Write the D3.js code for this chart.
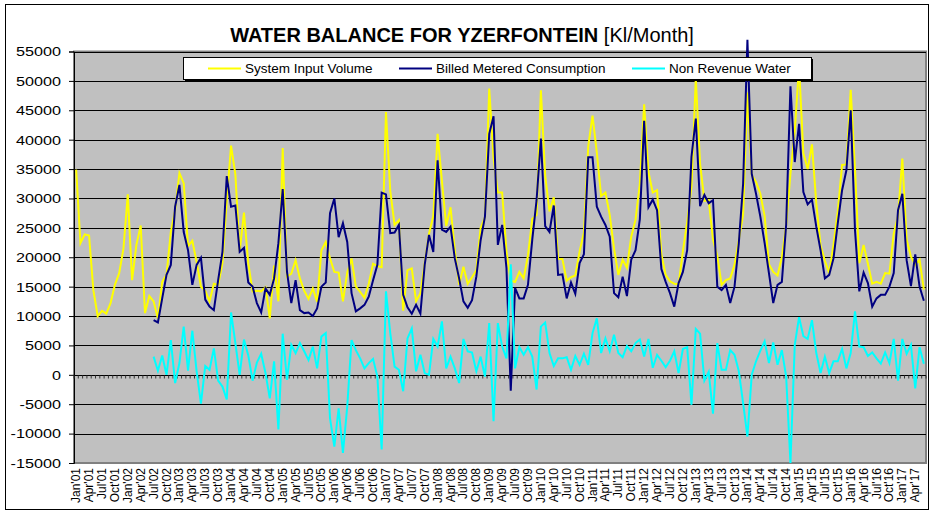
<!DOCTYPE html>
<html>
<head>
<meta charset="utf-8">
<script src="https://cdn.jsdelivr.net/npm/d3@7"></script>
<style>
  body { margin: 0; background: #fff; }
  svg { display: block; font-family: "Liberation Sans", Arial, sans-serif; }
</style>
</head>
<body>
<div id="chart"></div>
<script>
// monthly data, Jan 2001 .. Jun 2017 (198 months)
const years = d3.range(2001, 2018);
const monthNames = ["Jan", "Feb", "Mar", "Apr", "May", "Jun", "Jul", "Aug", "Sep", "Oct", "Nov", "Dec"];

const tickLabels = [
  "Jan'01","Apr'01","Jul'01","Oct'01","Jan'02","Apr'02","Jul'02","Oct'02",
  "Jan'03","Apr'03","Jul'03","Oct'03","Jan'04","Apr'04","Jul'04","Oct'04",
  "Jan'05","Apr'05","Jul'05","Oct'05","Jan'06","Apr'06","Jul'06","Oct'06",
  "Jan'07","Apr'07","Jul'07","Oct'07","Jan'08","Apr'08","Jul'08","Oct'08",
  "Jan'09","Apr'09","Jul'09","Oct'09","Jan'10","Apr'10","Jul'10","Oct'10",
  "Jan'11","Apr'11","Jul'11","Oct'11","Jan'12","Apr'12","Jul'12","Oct'12",
  "Jan'13","Apr'13","Jul'13","Oct'13","Jan'14","Apr'14","Jul'14","Oct'14",
  "Jan'15","Apr'15","Jul'15","Oct'15","Jan'16","Apr'16","Jul'16","Oct'16",
  "Jan'17","Apr'17"
];

const systemInput = [
  34900, 22400, 23900, 23700, 14400, 10000, 10900, 10400, 12200, 15300, 17300, 21500,
  30700, 16100, 22100, 25400, 10500, 13400,
  12500, 9600, 15800, 17000, 24300, 28000, 34300, 32600, 21900, 22800, 19200, 15000,
  14300, 12500, 15500, 15300, 19000, 29600, 39000, 34100, 21000, 27600, 19000, 14200,
  14300, 14200, 14900, 9600, 18600, 12500, 38600,
  16700, 17200, 19500, 16400, 14300, 12900, 14700, 12400, 21200, 22600,
  19800, 17500, 17400, 12500, 17400, 19800, 15000, 14100, 13100, 15500,
  18900, 18500, 18300, 44700, 31300, 25500, 26300, 10900, 17800, 18100,
  12500, 13900, 19000, 24000, 27000, 41000, 33000, 25300, 28500, 21200,
  15300, 18400, 15500, 16600, 17800, 25000, 26800, 48700, 36800, 31000,
  31000, 21000, 16000, 15800, 17500, 16400, 20300, 26500, 27200, 48400,
  33900, 27800, 30200, 19700, 19700, 16000, 16600, 16900, 21000, 24200,
  38800, 44100, 37800, 30400, 31000, 27200, 21500, 17000, 19600, 18200,
  23500, 26400, 32500, 46000, 34500, 31000, 31400, 20500, 17000, 15900,
  15500, 15400, 21000, 26000, 32000, 50400, 35900, 29600, 29700, 23000,
  20200, 15300, 16100, 16400, 18700, 22900, 27300, 48000, 34000, 32800,
  30800, 27000, 18800, 17500, 16900, 20000, 25400, 34200, 41500, 52500,
  37700, 35000, 39200, 29200, 22000, 19400, 17300, 22100, 27800, 35700,
  35800, 48500, 35000, 19000, 22100, 18900, 15500, 15800, 15500, 17300,
  17200, 24000, 27000, 36800, 23000, 20100, 18700, 19600, 14500
];

const billedMetered = [
  null, null, null, null, null, null, null, null, null, null, null, null,
  null, null, null, null, null, null,
  9300, 8900, 13000, 17000, 18700, 28600, 32300, 24300, 21200, 15300,
  18700, 19900, 12800, 11600, 11000, 16100, 20900, 33800, 28600, 28800,
  20900, 21600, 15700, 15000, 12200, 10600, 14700, 13600, 16400, 22400, 31600,
  17500, 12200, 16100, 11000, 10500, 10600, 10000, 11300, 15000, 15700,
  27500, 30000, 23400, 25800, 22600, 13900, 10800, 11300, 11900, 13300,
  16100, 18700, 31000, 30700, 24100, 24200, 25500, 13600, 11500, 10400,
  11900, 10400, 18700, 23800, 20900, 36500, 24700, 24300, 25200, 19800,
  16400, 12500, 11400, 12700, 16700, 22900, 26900, 41000, 44000, 22100,
  25500, 18200, -2700, 14800, 13000, 13000, 15300, 23000, 29700, 40200,
  25300, 24300, 28800, 17000, 17100, 13000, 15700, 13800, 19000, 20500,
  37000, 37000, 28600, 26900, 25500, 23500, 13900, 13200, 16700, 13400,
  19600, 21200, 26500, 43200, 28500, 29800, 28000, 18000, 15800, 13900,
  11600, 15600, 17500, 21200, 37100, 43600, 28700, 30600, 29200, 29700,
  15000, 14400, 15300, 12200, 15000, 22400, 32500, 57000, 34200, 30800,
  26900, 22400, 17300, 12200, 15300, 15800, 25500, 49100, 36200, 42700,
  31100, 29000, 29800, 25200, 21200, 16400, 17000, 19800, 25800, 31400,
  34800, 45000, 24600, 14200, 17400, 15600, 11600, 13000, 13600, 13600,
  15000, 17300, 28000, 30800, 19500, 15100, 20500, 15000, 12600
];

const nonRevenue = [
  null, null, null, null, null, null, null, null, null, null, null, null,
  null, null, null, null, null, null,
  3100, 700, 3300, 0, 5900, -1400, 2000, 8200, 700, 7500,
  600, -4900, 1500, 850, 4500, -1000, -2000, -4200, 10600, 5400,
  0, 6000, 3300, -1000, 2100, 3600, 300, -4000, 2300, -9300, 7000,
  -850, 5100, 3700, 5400, 4000, 2500, 4800, 1100, 6500, 7100,
  -7400, -12200, -5700, -13300, -5400, 5900, 4200, 2800, 1100, 2000,
  2700, -300, -12700, 14200, 7100, 1400, 850, -2800, 6200, 7900,
  600, 3400, 300, 0, 6100, 4800, 9100, 1100, 3100, 1100,
  -1400, 6100, 4000, 3800, 600, 3100, -300, 8800, -7900, 8800,
  4800, 2800, 18800, 1100, 4700, 3400, 4700, 3100, -2500, 8200,
  8900, 3700, 1500, 2800, 2800, 3000, 850, 3200, 1700, 3600,
  1700, 7100, 9600, 3700, 6200, 4000, 6800, 3700, 3000, 4900,
  4000, 5400, 6000, 3100, 6100, 1200, 3400, 2400, 1300, 2400,
  4000, 300, 4400, 4700, -5100, 7800, 7000, -1000, 500, -6600,
  5400, 850, 850, 4200, 3400, 600, -4800, -10500, 0, 2300,
  4100, 5700, 2000, 5500, 1700, 4200, -300, -15000, 5100, 9800,
  6600, 6100, 9300, 3700, 300, 3100, 300, 2300, 2300, 4400,
  1100, 3700, 10800, 4800, 4700, 3200, 3800, 2800, 1900, 3800,
  2000, 6100, -1000, 6100, 3600, 5100, -2300, 4700, 1900
];

const yTicks = [-15000, -10000, -5000, 0, 5000, 10000, 15000, 20000, 25000, 30000, 35000, 40000, 45000, 50000, 55000];

const seriesNames = ["System Input Volume", "Billed Metered Consumption", "Non Revenue Water"];
const seriesColors = ["#FFFF00", "#000080", "#00FFFF"];

// month categories built from years x month names
const months = [];
years.forEach(y => monthNames.forEach(m => months.push(m + "'" + String(y).slice(2))));
months.length = systemInput.length;

const width = 931, height = 513;
const plot = { left: 74, right: 926, top: 51.5, bottom: 463 };

const svg = d3.select("#chart").append("svg")
    .attr("width", width)
    .attr("height", height);

// outer chart frame
svg.append("rect")
    .attr("x", 5.5).attr("y", 4.5)
    .attr("width", 923).attr("height", 505)
    .attr("fill", "#fff")
    .attr("stroke", "#000")
    .attr("stroke-width", 1);

const x = d3.scaleBand()
    .domain(months)
    .range([plot.left, plot.right])
    .padding(0);

const y = d3.scaleLinear()
    .domain([-15000, 55000])
    .range([plot.bottom, plot.top]);

const cx = m => x(m) + x.bandwidth() / 2;

// plot area
svg.append("rect")
    .attr("x", plot.left).attr("y", plot.top)
    .attr("width", plot.right - plot.left)
    .attr("height", plot.bottom - plot.top)
    .attr("fill", "#C0C0C0")
    .attr("stroke", "#808080")
    .attr("stroke-width", 2);

// gridlines
svg.append("g")
    .selectAll("line")
    .data(yTicks.filter(t => t > -15000))
    .enter().append("line")
    .attr("x1", plot.left).attr("x2", plot.right)
    .attr("y1", d => Math.round(y(d)) + 0.5)
    .attr("y2", d => Math.round(y(d)) + 0.5)
    .attr("stroke", "#000")
    .attr("stroke-width", 1);

// y axis
const yAxis = svg.append("g")
    .attr("transform", `translate(${plot.left},0)`)
    .call(d3.axisLeft(y).tickValues(yTicks).tickSize(5).tickFormat(d3.format("d")));
yAxis.select(".domain").attr("stroke", "#000");
yAxis.selectAll(".tick line").attr("stroke", "#000");
yAxis.selectAll(".tick text").remove();

// y labels (wide looking digits like the original)
svg.append("g")
    .selectAll("text")
    .data(yTicks)
    .enter().append("text")
    .attr("transform", d => `translate(61,${y(d)}) scale(1.2,1)`)
    .attr("text-anchor", "end")
    .attr("dy", "0.36em")
    .attr("font-size", 13.5)
    .attr("fill", "#000")
    .text(d => d);

// category axis at zero, with a small tick for every month
const zeroY = Math.round(y(0)) + 0.5;
svg.append("g")
    .selectAll("line")
    .data(d3.range(months.length + 1))
    .enter().append("line")
    .attr("x1", d => plot.left + d * x.bandwidth())
    .attr("x2", d => plot.left + d * x.bandwidth())
    .attr("y1", zeroY)
    .attr("y2", zeroY + 3)
    .attr("stroke", "#333")
    .attr("stroke-width", 1);

// x labels, every third month, rotated
svg.append("g")
    .selectAll("text")
    .data(tickLabels)
    .enter().append("text")
    .attr("transform", d => `translate(${cx(d) + 4},468) rotate(-90)`)
    .attr("text-anchor", "end")
    .attr("font-size", 12)
    .attr("fill", "#000")
    .text(d => d);

// lines
const allSeries = [systemInput, billedMetered, nonRevenue];
const line = d3.line()
    .defined(d => d.v != null)
    .x(d => cx(d.m))
    .y(d => y(d.v));

svg.append("g")
    .selectAll("path")
    .data(allSeries)
    .enter().append("path")
    .attr("d", s => line(s.map((v, i) => ({ m: months[i], v: v }))))
    .attr("fill", "none")
    .attr("stroke", (s, i) => seriesColors[i])
    .attr("stroke-width", 2)
    .attr("stroke-linejoin", "miter");

// title
const title = svg.append("text")
    .attr("x", 462)
    .attr("y", 42)
    .attr("text-anchor", "middle")
    .attr("font-size", 20)
    .attr("fill", "#000");
title.append("tspan").attr("font-weight", "bold").text("WATER BALANCE FOR YZERFONTEIN ");
title.append("tspan").text("[Kl/Month]");

// legend (drawn over the lines)
const legend = svg.append("g");
legend.append("rect")
    .attr("x", 185).attr("y", 59)
    .attr("width", 628).attr("height", 22)
    .attr("fill", "#000");
legend.append("rect")
    .attr("x", 183.5).attr("y", 57.5)
    .attr("width", 628).attr("height", 22)
    .attr("fill", "#fff")
    .attr("stroke", "#000")
    .attr("stroke-width", 1);

const legendX = [208, 399, 632];
const items = legend.selectAll(".legend-item")
    .data(seriesNames)
    .enter().append("g")
    .attr("class", "legend-item")
    .attr("transform", (d, i) => `translate(${legendX[i]},68.5)`);

items.append("line")
    .attr("x1", 0).attr("x2", 33)
    .attr("stroke", (d, i) => seriesColors[i])
    .attr("stroke-width", 2);

items.append("text")
    .attr("x", 37)
    .attr("dy", "0.35em")
    .attr("font-size", 13.5)
    .attr("fill", "#000")
    .text(d => d);
</script>
</body>
</html>
